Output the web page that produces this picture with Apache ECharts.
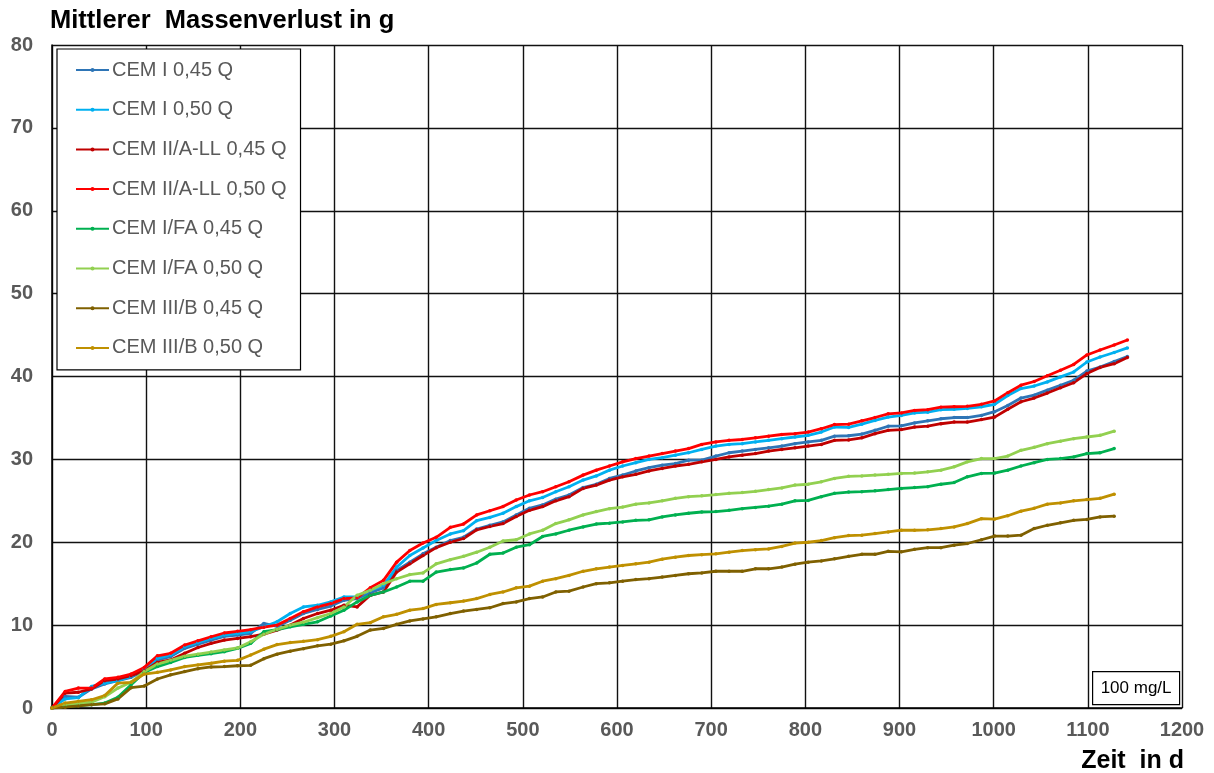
<!DOCTYPE html>
<html>
<head>
<meta charset="utf-8">
<script src="https://cdn.jsdelivr.net/npm/echarts@6/dist/echarts.min.js"></script>
<style>
  html, body { margin: 0; padding: 0; background: #fff; }
  #chart { width: 1214px; height: 773px; }
</style>
</head>
<body>
<div id="chart"></div>
<script>
// Measurement days (age of the specimens in d)
const days = [0, 14, 28, 42, 56, 70, 84, 98, 112, 126,
  141, 155, 169, 183, 197, 211, 225, 239, 253, 267,
  282, 296, 310, 324, 338, 352, 366, 380, 394, 408,
  423, 437, 451, 465, 479, 493, 507, 521, 535, 549,
  564, 578, 592, 606, 620, 634, 648, 662, 676, 690,
  705, 719, 733, 747, 761, 775, 789, 803, 817, 831,
  846, 860, 874, 888, 902, 916, 930, 944, 958, 972,
  987, 1001, 1015, 1029, 1043, 1057, 1071, 1085, 1099, 1113,
  1128, 1142];

// Mean mass loss in g per mix
const cemI045 = [0, 1.4, 1.3, 2.3, 2.9, 3.3, 3.7, 4.5, 5.8, 6.2,
  7.2, 7.7, 8.2, 8.65, 8.8, 9.0, 10.2, 9.85, 10.6, 11.4,
  11.9, 12.3, 13.0, 13.2, 13.9, 14.5, 16.6, 17.6, 18.6, 19.4,
  20.2, 20.6, 21.6, 22.05, 22.45, 23.3, 24.1, 24.5, 25.2, 25.7,
  26.6, 27.0, 27.7, 28.1, 28.6, 29.0, 29.3, 29.5, 29.9, 29.9,
  30.4, 30.8, 31.0, 31.2, 31.4, 31.6, 31.9, 32.1, 32.3, 32.8,
  32.85, 33.05, 33.5, 34.0, 34.05, 34.4, 34.65, 34.9, 35.05, 35.05,
  35.3, 35.75, 36.5, 37.4, 37.75, 38.35, 38.95, 39.55, 40.65, 41.15,
  41.8, 42.4];
const cemI050 = [0, 1.1, 1.25, 2.6, 3.0, 3.3, 3.8, 4.7, 6.0, 6.4,
  7.4, 7.9, 8.4, 8.8, 9.0, 9.2, 9.8, 10.4, 11.4, 12.2,
  12.4, 12.8, 13.4, 13.4, 14.2, 14.8, 17.0, 18.4, 19.3, 20.2,
  21.0, 21.4, 22.6, 23.0, 23.5, 24.3, 25.0, 25.4, 26.1, 26.7,
  27.5, 28.0, 28.7, 29.2, 29.6, 30.0, 30.2, 30.5, 30.8, 31.2,
  31.6, 31.8, 31.9, 32.1, 32.3, 32.5, 32.7, 32.9, 33.3, 33.9,
  33.85, 34.25, 34.7, 35.1, 35.3, 35.6, 35.7, 36.0, 36.05, 36.15,
  36.35, 36.65, 37.7, 38.55, 38.85, 39.35, 39.95, 40.55, 41.75, 42.35,
  42.9, 43.45];
const cemIIall045 = [0, 1.8, 1.9, 2.3, 3.3, 3.5, 3.9, 4.5, 5.5, 5.8,
  6.6, 7.3, 7.8, 8.2, 8.4, 8.6, 8.9, 9.4, 10.0, 10.8,
  11.4, 11.8, 12.4, 12.2, 13.6, 14.0, 16.4, 17.4, 18.4, 19.35,
  20.0, 20.45, 21.5, 21.9, 22.25, 23.1, 23.85, 24.3, 25.0, 25.5,
  26.5, 26.9, 27.5, 27.9, 28.2, 28.6, 28.9, 29.2, 29.4, 29.7,
  30.0, 30.3, 30.5, 30.7, 31.0, 31.2, 31.4, 31.6, 31.8, 32.3,
  32.35, 32.6, 33.1, 33.5, 33.6, 33.9, 34.0, 34.3, 34.5, 34.5,
  34.8, 35.1, 36.05, 36.95, 37.4, 38.0, 38.65, 39.25, 40.35, 41.1,
  41.55, 42.3];
const cemIIall050 = [0, 2.0, 2.4, 2.4, 3.5, 3.7, 4.1, 4.9, 6.3, 6.6,
  7.6, 8.1, 8.6, 9.05, 9.25, 9.45, 9.75, 10.0, 10.8, 11.6,
  12.2, 12.6, 13.2, 13.3, 14.5, 15.4, 17.6, 19.0, 19.9, 20.6,
  21.8, 22.2, 23.3, 23.8, 24.3, 25.1, 25.7, 26.1, 26.7, 27.3,
  28.1, 28.7, 29.2, 29.7, 30.1, 30.4, 30.7, 31.0, 31.3, 31.8,
  32.1, 32.3, 32.4, 32.6, 32.8, 33.0, 33.1, 33.3, 33.7, 34.2,
  34.25, 34.65, 35.05, 35.5, 35.6, 35.9, 36.0, 36.3, 36.35, 36.4,
  36.65, 37.05, 38.05, 38.95, 39.4, 40.1, 40.75, 41.45, 42.6, 43.2,
  43.8, 44.4];
const cemIfa045 = [0, 0.2, 0.3, 0.4, 0.6, 1.3, 2.8, 4.3, 5.0, 5.5,
  6.1, 6.35, 6.55, 6.8, 7.2, 7.8, 9.2, 9.45, 9.8, 10.1,
  10.4, 11.1, 11.8, 12.8, 13.6, 14.0, 14.6, 15.3, 15.3, 16.4,
  16.7, 16.9, 17.5, 18.55, 18.7, 19.4, 19.7, 20.7, 21.0, 21.45,
  21.85, 22.2, 22.3, 22.45, 22.65, 22.7, 23.05, 23.3, 23.5, 23.65,
  23.7, 23.85, 24.05, 24.2, 24.35, 24.6, 25.0, 25.05, 25.5, 25.9,
  26.05, 26.1, 26.2, 26.35, 26.5, 26.6, 26.7, 27.0, 27.2, 27.9,
  28.3, 28.35, 28.7, 29.2, 29.6, 30.0, 30.1, 30.3, 30.7, 30.8,
  31.3];
const cemIfa050 = [0, 0.4, 0.55, 0.7, 1.35, 2.4, 3.1, 4.4, 5.3, 5.75,
  6.25, 6.5, 6.75, 7.0, 7.25, 8.0, 8.9, 9.5, 10.0, 10.35,
  10.9, 11.4, 12.2, 13.6, 14.2, 15.0, 15.6, 16.1, 16.3, 17.4,
  17.9, 18.3, 18.8, 19.4, 20.15, 20.3, 21.0, 21.45, 22.25, 22.7,
  23.3, 23.7, 24.05, 24.25, 24.6, 24.75, 25.0, 25.3, 25.5, 25.6,
  25.75, 25.9, 26.0, 26.15, 26.35, 26.55, 26.9, 27.0, 27.3, 27.7,
  27.95, 28.0, 28.1, 28.2, 28.3, 28.35, 28.5, 28.7, 29.1, 29.7,
  30.1, 30.1, 30.4, 31.1, 31.45, 31.9, 32.2, 32.5, 32.7, 32.9,
  33.4];
const cemIIIb045 = [0, 0.1, 0.25, 0.4, 0.5, 1.1, 2.45, 2.65, 3.5, 4.0,
  4.4, 4.75, 4.95, 5.0, 5.1, 5.15, 5.95, 6.5, 6.85, 7.15,
  7.5, 7.7, 8.1, 8.65, 9.4, 9.6, 10.1, 10.5, 10.75, 11.0,
  11.4, 11.7, 11.9, 12.1, 12.6, 12.8, 13.2, 13.4, 14.0, 14.1,
  14.6, 15.0, 15.1, 15.3, 15.5, 15.6, 15.8, 16.0, 16.2, 16.3,
  16.5, 16.5, 16.5, 16.8, 16.8, 17.0, 17.35, 17.6, 17.75, 18.0,
  18.3, 18.55, 18.55, 18.9, 18.85, 19.15, 19.35, 19.35, 19.65, 19.85,
  20.3, 20.75, 20.75, 20.85, 21.65, 22.05, 22.35, 22.65, 22.75, 23.05,
  23.15];
const cemIIIb050 = [0, 0.6, 0.8, 1.0, 1.5, 3.0, 3.1, 4.1, 4.3, 4.6,
  5.0, 5.2, 5.4, 5.65, 5.75, 6.4, 7.1, 7.65, 7.9, 8.05,
  8.25, 8.65, 9.2, 10.1, 10.3, 11.0, 11.3, 11.8, 12.0, 12.5,
  12.7, 12.9, 13.2, 13.7, 14.0, 14.5, 14.7, 15.3, 15.6, 16.0,
  16.5, 16.8, 17.0, 17.2, 17.4, 17.6, 17.95, 18.2, 18.4, 18.5,
  18.6, 18.8, 19.0, 19.1, 19.2, 19.5, 19.9, 20.0, 20.2, 20.55,
  20.8, 20.85, 21.05, 21.25, 21.45, 21.45, 21.5, 21.65, 21.85, 22.25,
  22.85, 22.8, 23.2, 23.75, 24.1, 24.6, 24.75, 25.0, 25.15, 25.3,
  25.8];

const seriesNames = ['CEM I 0,45 Q', 'CEM I 0,50 Q', 'CEM II/A-LL 0,45 Q', 'CEM II/A-LL 0,50 Q',
  'CEM I/FA 0,45 Q', 'CEM I/FA 0,50 Q', 'CEM III/B 0,45 Q', 'CEM III/B 0,50 Q'];
const seriesValues = [cemI045, cemI050, cemIIall045, cemIIall050,
  cemIfa045, cemIfa050, cemIIIb045, cemIIIb050];
const seriesColors = ['#2E75B6', '#00B0F0', '#C00000', '#FF0000',
  '#00B050', '#92D050', '#7F6000', '#BF9000'];

const xTicks = [0, 1200, 100];   // min, max, step of the time axis
const yTicks = [0, 80, 10];      // min, max, step of the mass-loss axis

const FONT = '"Liberation Sans", Arial, sans-serif';

const chart = echarts.init(document.getElementById('chart'), null, { renderer: 'canvas' });

const series = seriesValues.map((vals, i) => ({
  name: seriesNames[i],
  type: 'line',
  data: vals.map((v, k) => [days[k], v]),
  symbol: 'circle',
  symbolSize: 3.5,
  showSymbol: true,
  color: seriesColors[i],
  lineStyle: { width: 2.8, color: seriesColors[i] },
  itemStyle: { color: seriesColors[i] },
  emphasis: { disabled: true },
  animation: false
}));

chart.setOption({
  animation: false,
  backgroundColor: '#ffffff',
  title: [
    {
      text: 'Mittlerer  Massenverlust in g',
      left: 50, top: 8, padding: 0,
      textStyle: { fontFamily: FONT, fontSize: 25.5, fontWeight: 'bold', color: '#000' }
    },
    {
      text: 'Zeit  in d',
      right: 30, top: 749, padding: 0,
      textStyle: { fontFamily: FONT, fontSize: 25, fontWeight: 'bold', color: '#000' }
    }
  ],
  grid: { left: 52, right: 32, top: 45, bottom: 65, containLabel: false },
  xAxis: {
    type: 'value',
    min: xTicks[0], max: xTicks[1], interval: xTicks[2],
    axisLine: { show: true, onZero: false, lineStyle: { color: '#000', width: 1.5 } },
    axisTick: { show: false },
    axisLabel: { margin: 12, fontFamily: FONT, fontSize: 20, fontWeight: 'bold', color: '#595959',
                 formatter: v => String(v) },
    splitLine: { show: true, lineStyle: { color: '#111', width: 1.4 } }
  },
  yAxis: {
    type: 'value',
    min: yTicks[0], max: yTicks[1], interval: yTicks[2],
    axisLine: { show: true, lineStyle: { color: '#000', width: 1.5 } },
    axisTick: { show: false },
    axisLabel: { margin: 19, fontFamily: FONT, fontSize: 20, fontWeight: 'bold', color: '#595959',
                 formatter: v => String(v) },
    splitLine: { show: true, lineStyle: { color: '#111', width: 1.4 } }
  },
  legend: {
    orient: 'vertical',
    left: 57, top: 49,
    padding: [11, 14, 12, 18],
    itemWidth: 33, itemHeight: 5,
    itemGap: 19.7,
    backgroundColor: '#fff',
    borderColor: '#000', borderWidth: 1.2,
    textStyle: { fontFamily: FONT, fontSize: 20, lineHeight: 20, color: '#595959', padding: [0, 0, 0, -2] },
    data: seriesNames
  },
  graphic: [
    {
      type: 'group', left: 1092, top: 671,
      children: [
        { type: 'rect', shape: { x: 0, y: 0, width: 87, height: 33 },
          style: { fill: '#fff', stroke: '#000', lineWidth: 1.2 } },
        { type: 'text', x: 43.5, y: 17,
          style: { text: '100 mg/L', font: '17px ' + FONT, fill: '#000',
                   textAlign: 'center', textVerticalAlign: 'middle', verticalAlign: 'middle' } }
      ]
    }
  ],
  series: series
});
</script>
</body>
</html>
